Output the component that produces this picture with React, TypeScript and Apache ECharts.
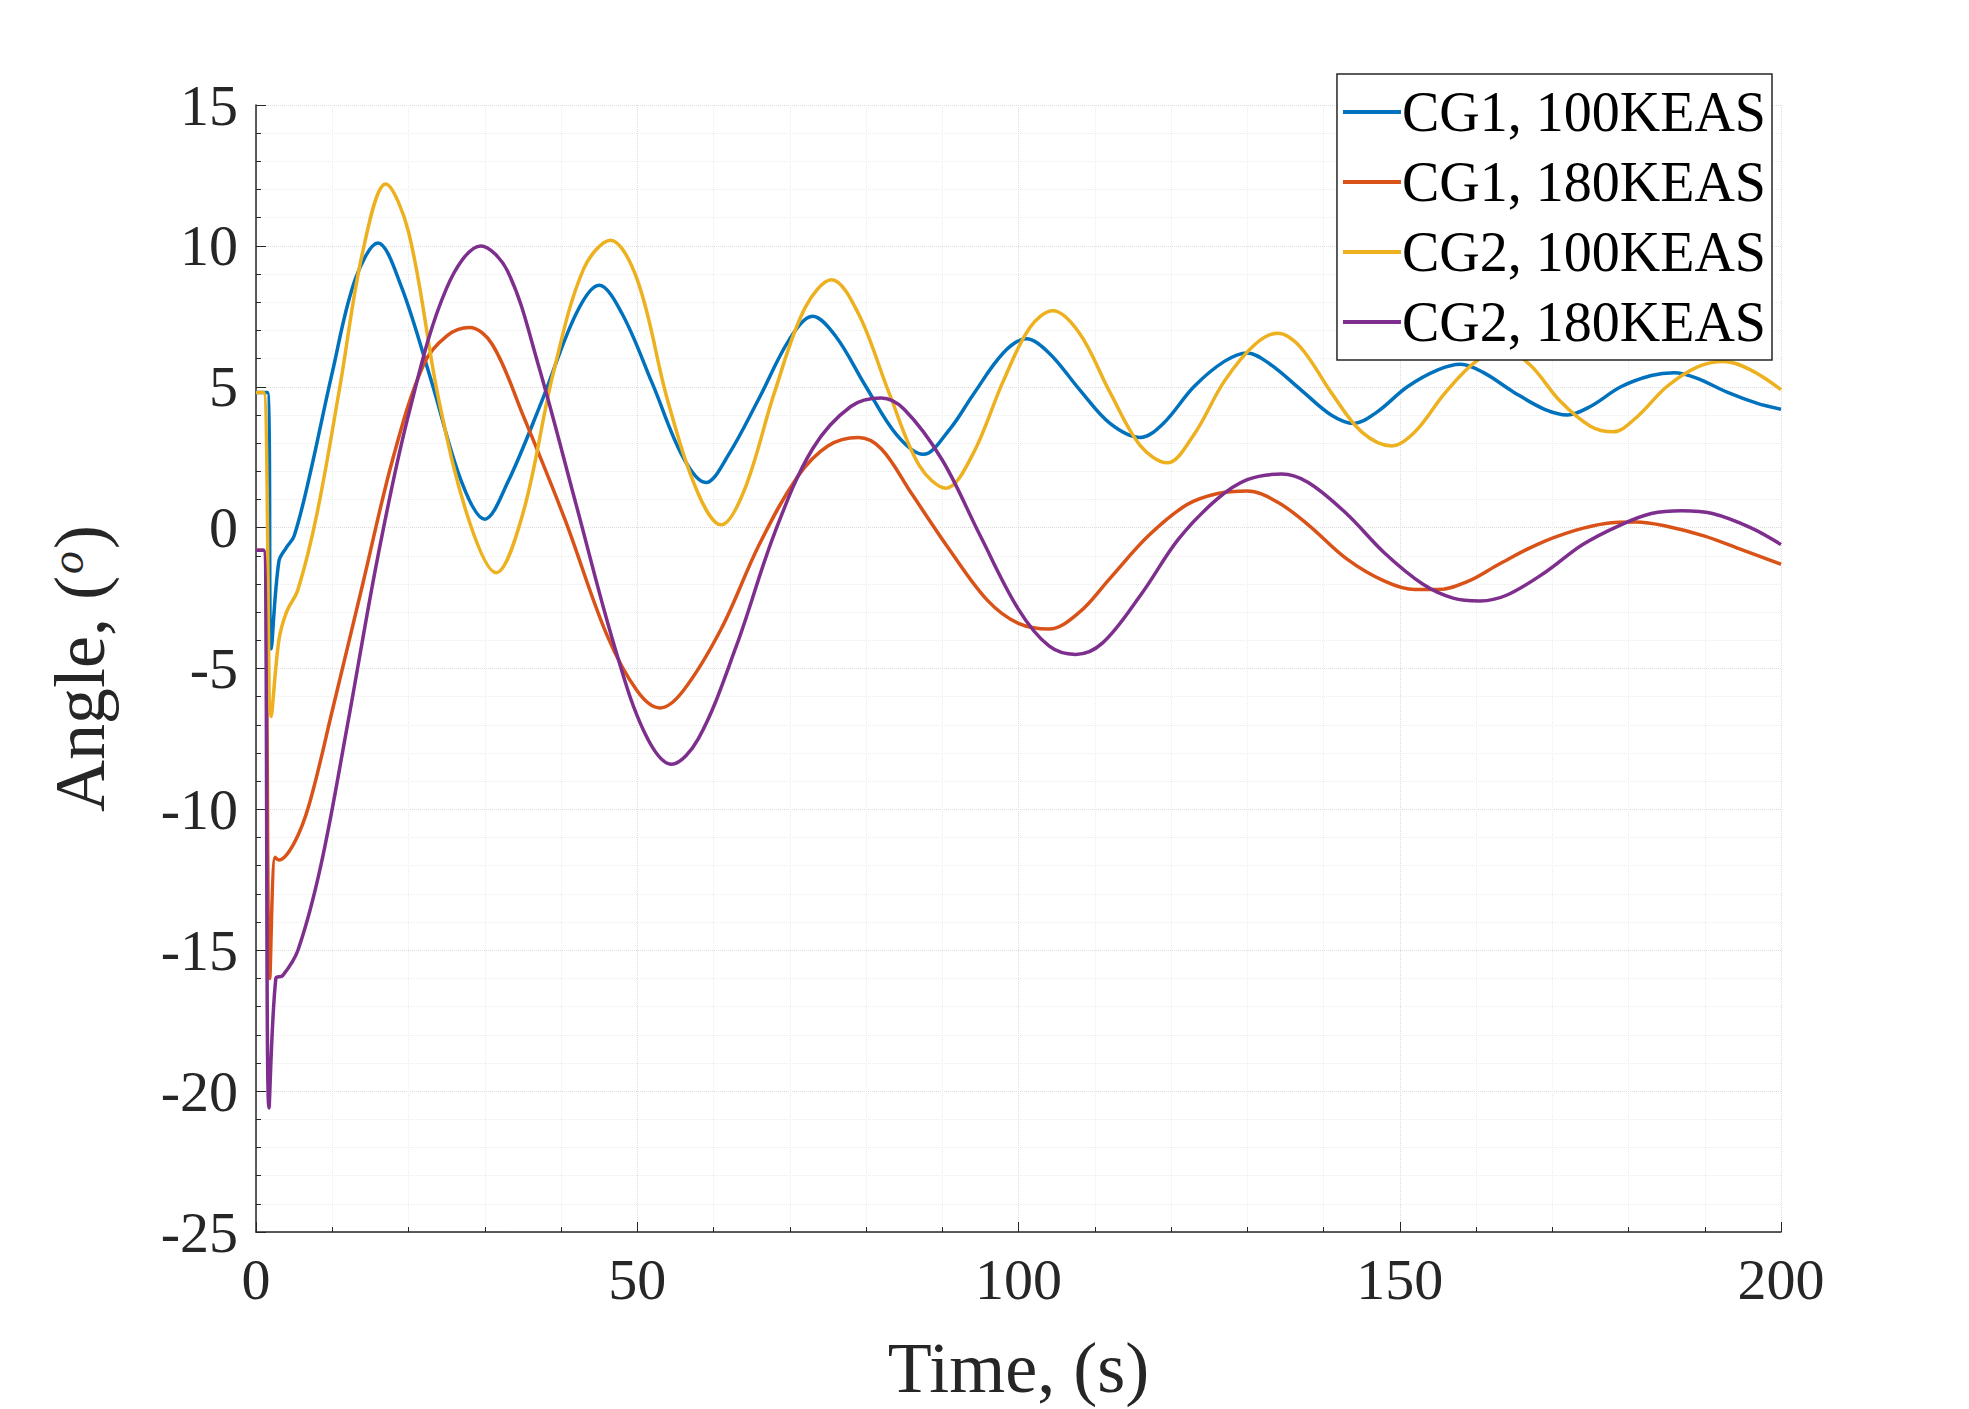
import React, { FC, useEffect, useRef } from "react";
import * as echarts from "echarts";

const names = ["CG1, 100KEAS", "CG1, 180KEAS", "CG2, 100KEAS", "CG2, 180KEAS"];
const colors = ["#0072BD", "#D95319", "#EDB120", "#7E2F8E"];

const cg1v100 = [[0,4.8],[1.5,4.8],[2,-4.3],[3,-1.2],[4,-0.7],[5,-0.3],[7,1.8],[10,5.5],[13,8.8],[16,10.1],[19,8.6],[23,5.2],[27,1.6],[30,0.3],[33,1.6],[37.5,4.5],[42,7.6],[45,8.6],[48,7.6],[52,5.1],[56,2.5],[59,1.6],[62,2.6],[66,4.6],[70,6.7],[73,7.5],[76,6.8],[80,5.0],[84,3.3],[87.5,2.6],[91,3.5],[94,4.7],[98,6.2],[101,6.7],[104,6.2],[108,4.9],[112,3.7],[116,3.2],[119,3.7],[123,5.0],[127,5.9],[130,6.2],[133,5.8],[137,4.9],[141,4.0],[144,3.7],[147,4.1],[151,5.0],[155,5.6],[158,5.8],[161,5.5],[165,4.8],[169,4.2],[172,4.0],[175,4.3],[179,5.0],[183,5.4],[186,5.5],[189,5.3],[193,4.8],[197,4.4],[200,4.2]];
const cg1v180 = [[0,-0.8],[1,-0.8],[1.8,-16],[2.5,-11.7],[3,-11.8],[5,-11.2],[7,-9.8],[10,-6.5],[14,-2],[18,2.5],[22,5.8],[25,6.8],[28,7.1],[31,6.5],[35,4],[40.5,0.3],[46,-3.8],[50,-5.8],[53,-6.4],[56,-5.8],[61,-3.6],[66,-0.6],[71,1.8],[75,2.9],[79,3.2],[82,2.8],[86,1.2],[91,-0.8],[96,-2.6],[100,-3.4],[104,-3.6],[108,-3.0],[112,-1.8],[117,-0.3],[122,0.8],[126,1.2],[130,1.3],[134,0.9],[138,0.1],[143,-1.1],[148,-1.9],[152,-2.2],[155,-2.2],[159,-1.9],[163,-1.3],[168,-0.6],[173,-0.1],[177,0.15],[181,0.2],[185,0.05],[190,-0.3],[195,-0.8],[200,-1.3]];
const cg2v100 = [[0,4.8],[1,4.8],[2,-6.7],[3,-4],[4,-3.0],[5.5,-2.2],[8,0.5],[11,5],[14,9.8],[17,12.2],[20,10.5],[24,4.5],[28,0.2],[31.5,-1.6],[35,0.5],[39,5.5],[43,9.2],[46.5,10.2],[50,8.8],[54,4.5],[58,1.2],[61,0.1],[64,1.3],[68,4.8],[72,7.8],[75.5,8.8],[79,7.6],[83,4.8],[87,2.2],[90.5,1.4],[94,2.6],[98,5.2],[101.5,7.1],[104.5,7.7],[108,6.9],[112,4.8],[116,2.9],[119.5,2.3],[123,3.3],[127,5.2],[131,6.5],[134,6.9],[137,6.4],[141,4.8],[145,3.4],[149,2.9],[152,3.4],[156,4.8],[160,5.9],[163.5,6.3],[167,5.8],[171,4.5],[175,3.6],[178,3.4],[181,3.9],[185,5.0],[189,5.7],[192.5,5.9],[196,5.6],[200,4.9]];
const cg2v180 = [[0,-0.8],[1,-0.8],[1.7,-20.6],[2.6,-16],[3.5,-15.9],[5.5,-15],[8.5,-12],[12,-7],[16,-1],[20,4],[25,8.5],[29.5,10],[33,9.1],[37,5.8],[42,0.8],[47,-4.2],[51,-7.3],[54.5,-8.4],[58,-7.5],[63,-4.2],[68,-0.2],[73,2.8],[78,4.3],[82,4.6],[85,4.2],[90,2.4],[95,-0.3],[100,-2.9],[104,-4.2],[107.5,-4.5],[111,-4.1],[116,-2.4],[121,-0.4],[126,1.0],[130,1.7],[134.5,1.9],[138,1.6],[143,0.5],[148,-0.9],[153,-2.0],[157,-2.5],[160.5,-2.6],[164,-2.4],[169,-1.6],[174,-0.6],[179,0.1],[183,0.5],[187,0.6],[191,0.5],[196,0],[200,-0.6]];

const seriesData = [cg1v100, cg1v180, cg2v100, cg2v180];
const font = "'Liberation Serif', 'DejaVu Serif', serif";

const App: FC = () => {
  const ref = useRef<HTMLDivElement>(null);
  useEffect(() => {
    const chart: any = echarts.init(ref.current, null, { renderer: "svg" });
    const axisCommon = {
      axisLine: { onZero: false, lineStyle: { color: "#262626", width: 1.5 } },
      axisTick: { inside: true, length: 10, lineStyle: { color: "#262626" } },
      minorTick: { show: true, splitNumber: 5, length: 5, lineStyle: { color: "#262626" } },
      splitLine: { show: true, lineStyle: { color: "#dcdcdc", type: "dotted", width: 1 } },
      minorSplitLine: { show: true, lineStyle: { color: "#ececec", type: "dotted", width: 1 } },
      axisLabel: { color: "#262626", fontFamily: font, fontSize: 58, margin: 18 },
      nameTextStyle: { color: "#262626", fontFamily: font, fontSize: 72 },
    };
    chart.setOption({
      animation: false,
      backgroundColor: "#fff",
      grid: { left: 256, top: 105, width: 1525, height: 1133 },
      legend: {
        right: 197, top: 74, orient: "vertical",
        itemWidth: 58, itemHeight: 4, itemGap: 14, padding: [10, 6, 10, 6],
        borderColor: "#262626", borderWidth: 1.5, backgroundColor: "#fff",
        icon: "rect",
        textStyle: { fontFamily: font, fontSize: 56, color: "#000", padding: [0, 0, 0, -4] },
        data: names,
      },
      xAxis: {
        type: "value", min: 0, max: 200, interval: 50,
        name: "Time, (s)", nameLocation: "middle", nameGap: 100,
        ...axisCommon,
      },
      yAxis: {
        type: "value", min: -25, max: 15, interval: 5,
        name: "Angle, ({sup|o})", nameLocation: "middle", nameGap: 140,
        ...axisCommon,
        nameTextStyle: {
          ...axisCommon.nameTextStyle,
          rich: { sup: { fontFamily: font, fontSize: 46, fontStyle: "italic", verticalAlign: "top", padding: [0, 2, 24, 2] } },
        },
      },
      series: seriesData.map((d, i) => ({
        name: names[i], type: "line", data: d, smooth: 0.35, showSymbol: false,
        lineStyle: { width: 3.5, color: colors[i] }, itemStyle: { color: colors[i] },
      })),
    });
    return () => chart.dispose();
  }, []);
  return <div ref={ref} style={{ position: "fixed", left: 0, top: 0, width: 1969, height: 1409 }} />;
};

export default App;
